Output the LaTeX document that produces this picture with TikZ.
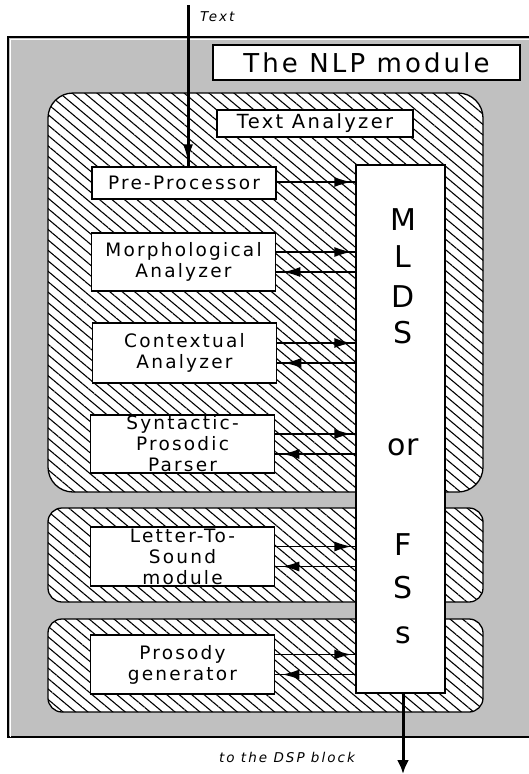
\documentclass[tikz,border=0pt]{standalone}
\usepackage{fontspec}
\setmainfont{DejaVu Sans}
\newfontfamily\boxfont[LetterSpace=12]{DejaVu Sans}
\newfontfamily\notefont[LetterSpace=15]{DejaVu Sans}
\usepackage{xcolor}
\usepackage{tikz}
\usetikzlibrary{arrows.meta,patterns.meta}
\definecolor{panelgray}{HTML}{C0C0C0}

\begin{document}
\begin{tikzpicture}[x=1pt, y=-1pt,
  box/.style={rectangle, draw, line width=1.5pt, fill=white, minimum width=184pt,
    align=center, inner sep=1pt, font=\boxfont\fontsize{18.5}{21}\selectfont},
  tag/.style={rectangle, draw, line width=2.5pt, fill=white, inner sep=0pt},
  region/.style={draw, line width=1.3pt, preaction={fill=white},
    pattern={Lines[angle=-40, distance=8pt, line width=1.1pt]}},
  letter/.style={font=\fontsize{30}{30}\selectfont, inner sep=0pt},
  note/.style={font=\notefont\itshape\fontsize{13.5}{15}\selectfont, inner sep=0pt},
  flow/.style={line width=1.6pt, postaction={draw, line width=1.6pt,
    -{Latex[length=17pt,width=10pt]}, shorten >=#1}},
  flow/.default=5pt
]
  \useasboundingbox (0,0) rectangle (528,774);

  % Gray panel of the NLP module
  \draw[fill=panelgray, line width=1.2pt] (8,37) rectangle (535,737);
  \draw[white, line width=1pt] (10.5,737) -- (10.5,39.5) -- (535,39.5);
  \node[tag, minimum width=307pt, minimum height=35pt] (nlp) at (366.5,62.5)
    {\boxfont\fontsize{26}{26}\selectfont The NLP module};

  % Hatched regions
  \draw[region, rounded corners=25pt] (48,93) rectangle (483,492);
  \draw[region, rounded corners=14pt] (48,508) rectangle (483,602);
  \draw[region, rounded corners=14pt] (48,619) rectangle (483,712);
  \node[tag, minimum width=196pt, minimum height=27pt] (ta) at (315,123.5)
    {\boxfont\fontsize{19.5}{20}\selectfont Text Analyzer};

  % MLDS or FSs column
  \node[draw, line width=1.3pt, fill=white, minimum width=89pt,
    minimum height=528pt, inner sep=0pt] (mlds) at (400.5,429) {};
  \foreach \ch/\yy/\nm in {M/220/m, L/257/l, D/297/d, S/333/s, or/447/or,
      F/545/f, S/588/s2, s/635/s3}
    \node[letter] (col-\nm) at (403,\yy) {\ch};

  % Modules
  \node[box, minimum height=32pt] (pre) at (184,183) {Pre-Processor};
  \node[box, minimum height=58pt] (morph) at (183.5,262) {Morphological\\Analyzer};
  \node[box, minimum height=60pt] (context) at (184.5,353) {Contextual\\Analyzer};
  \node[box, minimum height=58pt] (parser) at (182.5,444)
    {\fontsize{18.5}{18.5}\selectfont Syntactic-\\Prosodic\\Parser};
  \node[box, minimum height=59pt] (lts) at (182.5,556.5)
    {\fontsize{18.5}{18.5}\selectfont Letter-To-\\Sound\\module};
  \node[box, minimum height=59pt] (prosody) at (182.5,664.5) {Prosody\\generator};

  % Module <-> column traffic
  \path ([yshift=1pt]pre.east) coordinate (pre-out);
  \draw[flow=4pt] (pre-out) -- (pre-out -| mlds.west);
  \foreach \b in {morph,context,parser,lts,prosody} {
    \path ([yshift=10pt]\b.east) coordinate (\b-out)
          ([yshift=-10pt]\b.east) coordinate (\b-in);
    \draw[flow=4pt] (\b-out) -- (\b-out -| mlds.west);
    \draw[flow=7pt] (\b-in -| mlds.west) -- (\b-in);
  }

  % Input text and output to DSP
  \coordinate (src) at (188,5);
  \draw[flow=5pt, line width=3pt] (src) -- (src |- pre.north);
  \node[note, anchor=west] (txt) at (200,17) {Text};
  \coordinate (dsp) at (403,774);
  \draw[-{Latex[length=14pt,width=12pt]}, line width=3pt] (dsp |- mlds.south) -- (dsp);
  \node[note] (dsplabel) at (287,757) {to the DSP block};
\end{tikzpicture}
\end{document}
